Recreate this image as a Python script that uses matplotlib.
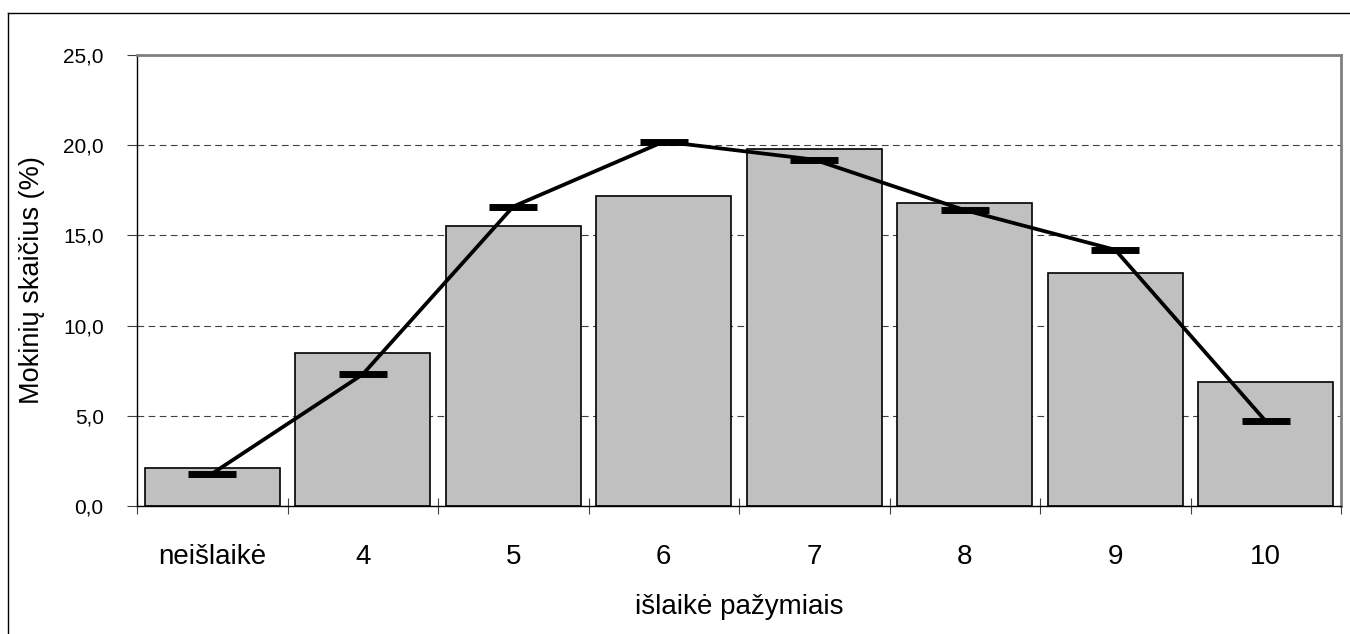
import matplotlib
matplotlib.use("Agg")
import matplotlib.pyplot as plt
from matplotlib.lines import Line2D
import numpy as np

plt.rcParams['font.family'] = ['Liberation Sans', 'DejaVu Sans']

categories = ["neišlaikė", "4", "5", "6", "7", "8", "9", "10"]
bar_values = [2.1, 8.5, 15.5, 17.2, 19.8, 16.8, 12.9, 6.9]
line_values = [1.8, 7.3, 16.6, 20.2, 19.2, 16.4, 14.2, 4.7]
y_ticks = [0, 5, 10, 15, 20, 25]
y_tick_labels = ["0,0", "5,0", "10,0", "15,0", "20,0", "25,0"]
x_label = "išlaikė pažymiais"
y_label = "Mokinių skaičius (%)"

fig = plt.figure(figsize=(13.5, 6.34), dpi=100)
ax = fig.add_axes([137/1350, 1 - 506/634, (1341 - 137)/1350, (506 - 55)/634])

x = np.arange(len(categories))
ax.bar(x, bar_values, width=0.9, color="#C0C0C0", edgecolor="black", linewidth=1.2, zorder=2)
ax.plot(x, line_values, color="black", linewidth=2.7, marker="_", markersize=34,
        markeredgewidth=5, zorder=3)

ax.set_xlim(-0.5, len(categories) - 0.5)
ax.set_ylim(0, 25)

ax.set_yticks(y_ticks)
ax.set_yticklabels(y_tick_labels, fontsize=15)
ax.yaxis.grid(True, linestyle=(0, (6, 4)), color="#404040", linewidth=0.8, zorder=0)
ax.set_axisbelow(True)

ax.set_xticks(x)
ax.set_xticklabels(categories, fontsize=20)
ax.set_xticks(np.arange(len(categories) + 1) - 0.5, minor=True)
ax.tick_params(axis="x", which="major", length=0, pad=27)
ax.tick_params(axis="x", which="minor", direction="inout", length=12, width=0.8, color="#404040")
ax.tick_params(axis="y", direction="out", length=7, width=0.8, pad=17, color="#404040")

ax.set_xlabel(x_label, fontsize=20, labelpad=18)
ax.set_ylabel(y_label, fontsize=19.5, labelpad=13)

for s in ["left", "bottom"]:
    ax.spines[s].set_color("black")
    ax.spines[s].set_linewidth(1.0)
for s in ["top", "right"]:
    ax.spines[s].set_color("#808080")
    ax.spines[s].set_linewidth(2.0)

# outer chart frame
fx = 7.5 / 1350
fy = 1 - 12.5 / 634
fig.add_artist(Line2D([fx, fx], [0, fy], color="black", linewidth=1.0, transform=fig.transFigure))
fig.add_artist(Line2D([fx, 1], [fy, fy], color="black", linewidth=1.0, transform=fig.transFigure))

fig.savefig("out.png", dpi=100, facecolor="white")
